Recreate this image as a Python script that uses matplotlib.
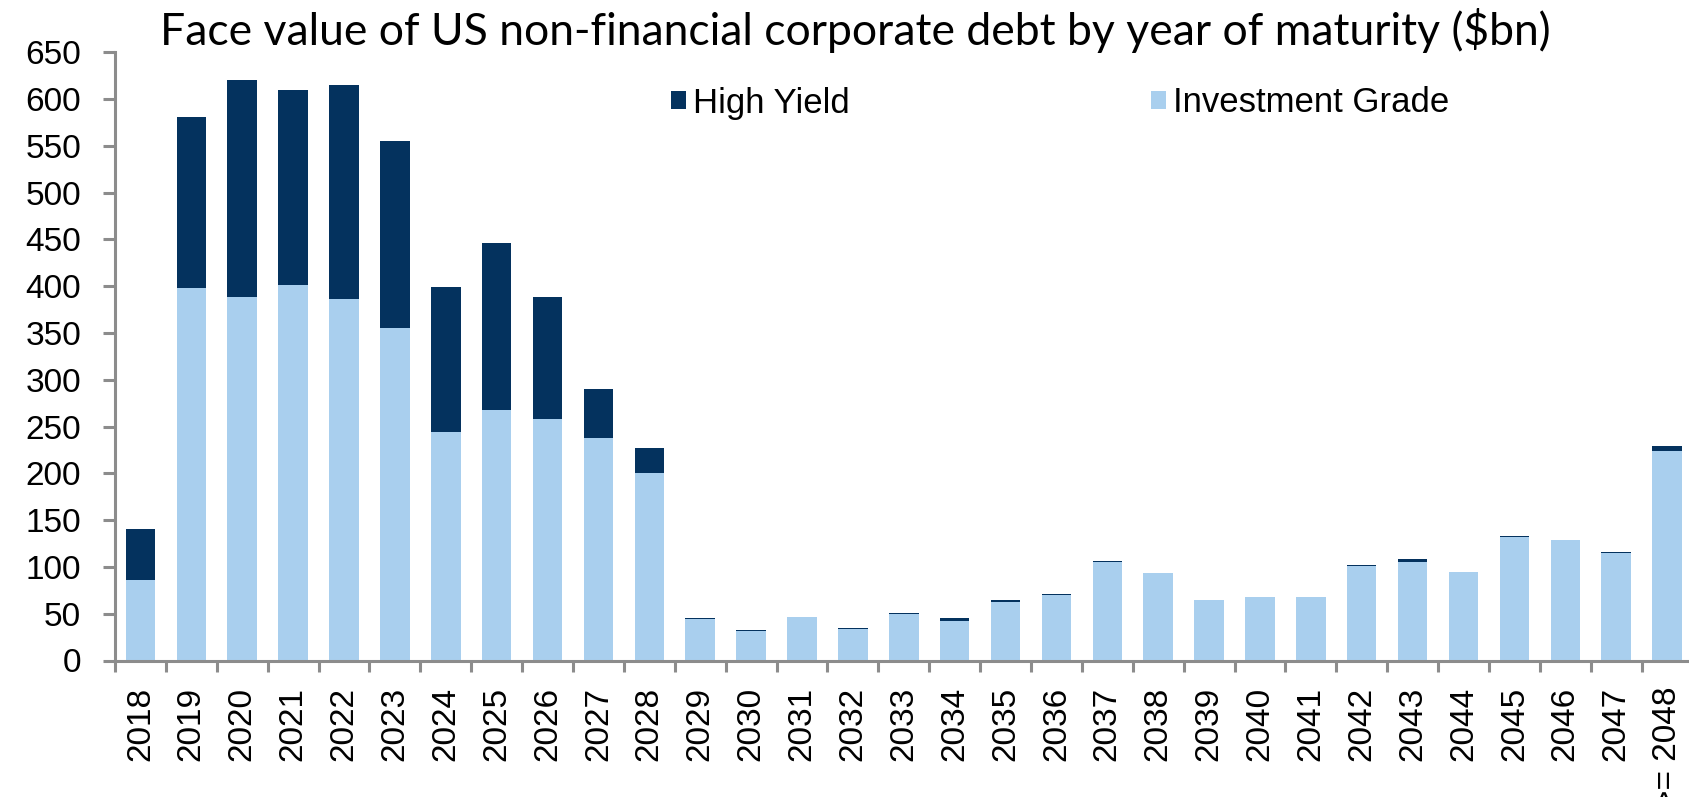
import numpy as np
import matplotlib
matplotlib.use("Agg")
import matplotlib.pyplot as plt
from matplotlib.ticker import FixedLocator, NullFormatter

# Maturity buckets (last bucket collects everything from 2048 onward)
years = [str(y) for y in range(2018, 2048)] + [">= 2048"]

# Face value by rating bucket, $bn
investment_grade = [86, 398, 389, 401, 386, 355, 244, 268, 258, 238, 200,
                    44, 32, 47, 34, 50, 42, 62, 70, 105, 93, 65, 68, 68,
                    101, 105, 95, 132, 129, 115, 224]
high_yield = [55, 183, 231, 209, 229, 200, 155, 178, 131, 52, 27,
              1, 1, 0, 1, 1, 3, 2.5, 1, 1, 0, 0, 0, 0,
              1, 3.5, 0, 1, 0, 1, 5]

y_ticks = list(range(0, 651, 50))

DARK = "#04325e"
LIGHT = "#a9cfee"
AXIS_GREY = "#8c8c8c"

W, H = 1689, 797
fig = plt.figure(figsize=(W / 100, H / 100), dpi=100)
ax = fig.add_axes([115 / W, (H - 660.5) / H, (1692.5 - 115) / W, 608.2 / H])

x = np.arange(len(years))
ig_bars = ax.bar(x, investment_grade, width=0.58, color=LIGHT,
                 label="Investment Grade", zorder=2)
hy_bars = ax.bar(x, high_yield, width=0.58, bottom=investment_grade,
                 color=DARK, label="High Yield", zorder=2)

ax.set_xlim(-0.5, len(years) - 0.5)
ax.set_ylim(0, 650)

# Axis lines
for side in ("top", "right"):
    ax.spines[side].set_visible(False)
for side in ("left", "bottom"):
    ax.spines[side].set_color(AXIS_GREY)
    ax.spines[side].set_linewidth(2.2)

# Y axis ticks
ax.set_yticks(y_ticks)
ax.set_yticklabels([str(v) for v in y_ticks], family="Liberation Sans",
                   fontsize=24)
ax.tick_params(axis="y", direction="out", length=8.5, width=2.2,
               color=AXIS_GREY, pad=16)

# X axis: labels at bar centres, tick marks between categories
ax.set_xticks(x)
ax.set_xticklabels(years, rotation=90, family="Liberation Sans",
                   fontsize=24, va="top", ha="center")
ax.tick_params(axis="x", which="major", length=0, pad=19)
ax.xaxis.set_minor_locator(FixedLocator(np.arange(-0.5, len(years), 1.0)))
ax.xaxis.set_minor_formatter(NullFormatter())
ax.tick_params(axis="x", which="minor", direction="out", length=8,
               width=2.2, color=AXIS_GREY)

# Legend
fs = 25
leg = fig.legend(handles=[hy_bars, ig_bars],
                 labels=["High Yield", "Investment Grade"],
                 loc="center left", bbox_to_anchor=(671 / W, 1 - 103 / H),
                 ncol=2, frameon=False,
                 prop={"family": "Liberation Sans", "size": fs},
                 handlelength=0.42, handleheight=0.42, handletextpad=0.2,
                 columnspacing=8.7, borderpad=0, borderaxespad=0)

# Title
fig.text(855 / W, 1 - 45 / H,
         "Face value of US non-financial corporate debt by year of maturity ($bn)",
         ha="center", va="baseline", family="Lato", fontsize=32)

fig.savefig("out.png", dpi=100)
